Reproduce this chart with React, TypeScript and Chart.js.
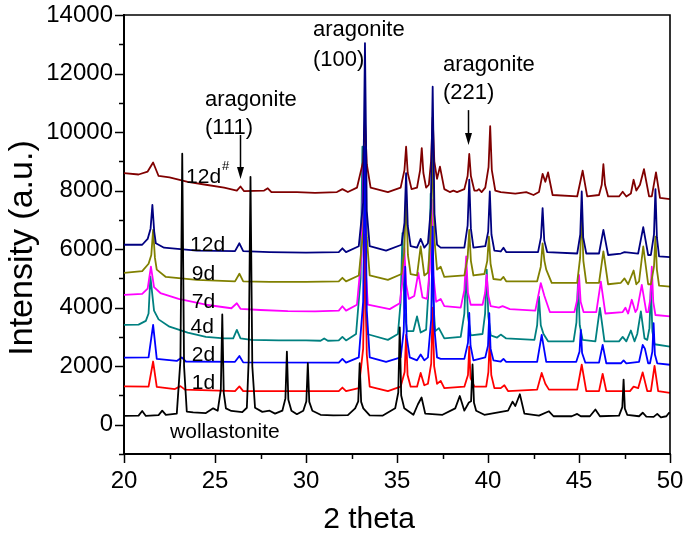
import { useEffect, useRef } from 'react';
import { Chart, registerables } from 'chart.js';
Chart.register(...registerables);

type P = [number, number];

// x-axis (2 theta) and y-axis (Intensity) limits / ticks
const xMin = 20;
const xMax = 50;
const xStep = 2.5;
const yMin = -1000;
const yMax = 14000;
const yStep = 1000;

const wollastonite: P[] = [
  [20, 300], [20.8, 310], [21.0, 470], [21.2, 300], [21.9, 330], [22.1, 480], [22.3, 340], [22.9, 380],
  [23.1, 2200], [23.2, 9260], [23.3, 2000], [23.45, 450], [23.8, 420], [24.5, 400], [24.9, 560], [25.15, 480],
  [25.32, 1200], [25.4, 3770], [25.48, 1100], [25.6, 560], [25.9, 470], [26.5, 430], [26.75, 580], [26.85, 2200],
  [26.95, 8470], [27.05, 2000], [27.2, 580], [27.6, 440], [28.0, 480], [28.3, 380], [28.7, 480], [28.87, 900],
  [28.95, 2500], [29.03, 850], [29.2, 480], [29.5, 360], [29.85, 480], [30.02, 800], [30.1, 2100], [30.18, 780],
  [30.35, 480], [30.8, 340], [31.5, 320], [32.3, 330], [32.7, 560], [32.87, 800], [32.95, 2100], [33.03, 780],
  [33.15, 560], [33.5, 320], [34.2, 310], [34.9, 560], [35.07, 1100], [35.15, 3330], [35.23, 1000], [35.4, 560],
  [35.9, 340], [36.15, 700], [36.35, 930], [36.55, 380], [37.5, 340], [38.2, 560], [38.45, 980], [38.7, 480],
  [38.95, 760], [39.07, 800], [39.15, 2060], [39.23, 750], [39.35, 480], [39.8, 340], [41.1, 480], [41.35, 790],
  [41.5, 640], [41.75, 1040], [42.0, 380], [42.8, 310], [43.35, 460], [43.6, 290], [44.6, 290], [44.9, 370],
  [45.1, 290], [45.6, 290], [45.9, 520], [46.15, 290], [47.2, 310], [47.38, 600], [47.45, 1540], [47.52, 550],
  [47.65, 340], [48.3, 290], [48.5, 410], [48.7, 280], [49.1, 270], [49.3, 370], [49.5, 250], [49.8, 290],
  [49.95, 410], [50, 400],
];

const day1: P[] = [
  [20, 1310], [21.35, 1300], [21.6, 2160], [21.8, 1290], [22.8, 1220], [23.1, 1320], [23.35, 1200], [26.1, 1150],
  [26.34, 1310], [26.55, 1150], [31.8, 1150], [32.0, 1270], [32.2, 1150], [32.9, 1250], [33.14, 2600], [33.24, 6500],
  [33.34, 2400], [33.5, 1300], [34.5, 1150], [35.2, 1300], [35.42, 1800], [35.5, 3070], [35.58, 1700], [35.75, 1300],
  [36.1, 1300], [36.3, 1770], [36.5, 1350], [36.7, 1400], [36.88, 2100], [36.96, 4000], [37.04, 2000], [37.2, 1400],
  [37.4, 1500], [37.6, 1250], [38.7, 1300], [38.9, 1700], [38.97, 2670], [39.04, 1600], [39.25, 1300], [39.9, 1300],
  [40.02, 1800], [40.1, 2950], [40.18, 1700], [40.35, 1250], [40.7, 1250], [40.9, 1350], [41.1, 1150], [42.7, 1200],
  [42.95, 1770], [43.15, 1400], [43.35, 1200], [44.9, 1200], [45.15, 2050], [45.4, 1150], [46.1, 1150], [46.3, 1740],
  [46.5, 1150], [47.8, 1150], [48.0, 1300], [48.25, 1250], [48.5, 1790], [48.75, 1150], [48.95, 1150], [49.15, 2010],
  [49.35, 1150], [50, 1090],
];

const day2: P[] = [
  [20, 2290], [21.35, 2300], [21.6, 3410], [21.8, 2250], [22.9, 2180], [23.17, 2300], [23.4, 2160], [26.1, 2150],
  [26.34, 2350], [26.55, 2130], [31.8, 2120], [32.0, 2250], [32.2, 2120], [32.9, 2300], [33.14, 4200], [33.24, 9500],
  [33.34, 3900], [33.5, 2300], [34.4, 2150], [35.2, 2300], [35.37, 3200], [35.45, 5400], [35.53, 3000], [35.7, 2300],
  [36.1, 2200], [36.3, 2400], [36.5, 2200], [36.7, 2300], [36.88, 3600], [36.96, 6770], [37.04, 3400], [37.2, 2300],
  [37.4, 2250], [38.7, 2250], [38.9, 2800], [38.97, 3820], [39.04, 2700], [39.2, 2200], [39.85, 2300], [40.0, 2700],
  [40.07, 3810], [40.14, 2600], [40.3, 2200], [40.7, 2160], [40.85, 2250], [41.0, 2150], [42.7, 2150], [42.95, 3070],
  [43.2, 2150], [44.85, 2150], [45.03, 2500], [45.1, 3240], [45.17, 2450], [45.35, 2120], [46.1, 2120], [46.3, 2730],
  [46.5, 2100], [47.3, 2100], [47.45, 2200], [47.6, 2100], [48.3, 2150], [48.5, 2730], [48.62, 2600], [48.8, 2100],
  [48.9, 2100], [49.03, 2500], [49.1, 3470], [49.17, 2400], [49.3, 2100], [50, 2050],
];

const day4: P[] = [
  [20, 3410], [20.8, 3420], [21.2, 3550], [21.35, 3800], [21.45, 5060], [21.65, 3900], [21.9, 3600], [22.5, 3350],
  [23.5, 3150], [24.5, 3000], [25.5, 2950], [26.0, 2950], [26.2, 3240], [26.4, 2950], [27, 2900], [28.5, 2880],
  [30, 2880], [30.8, 2870], [31.0, 2950], [31.2, 2870], [31.8, 2880], [32.0, 3000], [32.2, 2880], [32.75, 3100],
  [33.0, 5000], [33.1, 9500], [33.2, 4800], [33.35, 3100], [34.5, 2900], [35.05, 3100], [35.2, 4200], [35.3, 6550],
  [35.4, 4000], [35.55, 3200], [35.9, 3200], [36.1, 3700], [36.3, 3150], [36.6, 3250], [36.75, 4800], [36.85, 7900],
  [36.95, 4600], [37.1, 3200], [37.3, 3300], [37.6, 2950], [38.5, 3000], [38.7, 3800], [38.8, 5290], [38.9, 3700],
  [39.05, 3050], [39.7, 3100], [39.84, 3800], [39.93, 5300], [40.02, 3700], [40.15, 3050], [40.5, 2980], [40.7, 3080],
  [41, 2950], [42.55, 2900], [42.7, 3400], [42.8, 4380], [42.9, 3400], [43.05, 3100], [43.3, 2850], [44.7, 2850],
  [44.86, 3500], [44.95, 4950], [45.04, 3400], [45.2, 2900], [45.9, 2850], [46.15, 3990], [46.4, 2850], [47.2, 2850],
  [47.4, 3000], [47.6, 2850], [47.85, 3220], [48.05, 2850], [48.2, 3100], [48.4, 3870], [48.6, 2950], [48.75, 2900],
  [48.87, 3300], [48.95, 4720], [49.03, 3200], [49.15, 2750], [50, 2670],
];

const day7: P[] = [
  [20, 4440], [21.0, 4470], [21.3, 4650], [21.48, 5400], [21.65, 4700], [22, 4500], [23, 4300], [24.5, 4100],
  [25.9, 3980], [26.2, 4150], [26.4, 3960], [27.5, 3920], [29, 3880], [30.5, 3870], [31.8, 3900], [32.0, 4050],
  [32.2, 3900], [32.8, 4100], [33.05, 5800], [33.15, 8800], [33.25, 5600], [33.4, 4100], [34.6, 3950], [35.15, 4150],
  [35.3, 4900], [35.4, 6040], [35.5, 4800], [35.65, 4300], [35.95, 4400], [36.17, 5190], [36.4, 4350], [36.65, 4300],
  [36.8, 5300], [36.9, 7700], [37.0, 5100], [37.15, 4200], [37.4, 4300], [37.6, 4050], [38.5, 4000], [38.7, 4600],
  [38.8, 5750], [38.9, 4500], [39.05, 4100], [39.7, 4100], [39.84, 4500], [39.93, 5120], [40.02, 4400], [40.15, 4050],
  [40.6, 4000], [40.8, 4050], [41.2, 3950], [42.6, 3900], [42.9, 4840], [43.1, 4400], [43.4, 3850], [44.75, 3850],
  [44.91, 4300], [45.0, 5120], [45.09, 4200], [45.25, 3850], [45.95, 3850], [46.2, 4890], [46.45, 3800], [47.4, 3850],
  [47.55, 4000], [47.7, 3800], [47.9, 4270], [48.1, 3850], [48.2, 3950], [48.45, 4780], [48.7, 3850], [48.8, 3850],
  [48.92, 4300], [49.0, 5400], [49.08, 4200], [49.2, 3750], [50, 3700],
];

const day9: P[] = [
  [20, 5190], [21.0, 5250], [21.35, 5500], [21.5, 5800], [21.6, 6660], [21.7, 5700], [21.8, 5300], [22.3, 5050],
  [24, 4950], [26.1, 4900], [26.34, 5160], [26.55, 4900], [28, 4880], [30, 4880], [31.8, 4900], [32.0, 5020],
  [32.2, 4900], [32.9, 5100], [33.14, 6600], [33.24, 9000], [33.34, 6400], [33.5, 5100], [34.5, 4950], [35.25, 5150],
  [35.4, 5900], [35.5, 7920], [35.6, 5800], [35.75, 5150], [36.1, 5100], [36.3, 6090], [36.5, 5100], [36.7, 5200],
  [36.86, 6500], [36.96, 9700], [37.06, 6300], [37.2, 5300], [37.4, 5400], [37.6, 5050], [38.7, 5100], [38.88, 5700],
  [38.97, 6660], [39.06, 5600], [39.2, 5100], [39.8, 5150], [39.96, 5600], [40.05, 6430], [40.14, 5500], [40.3, 4980],
  [40.7, 4950], [40.85, 5050], [41, 4900], [42.7, 4900], [42.9, 5400], [43.0, 6200], [43.1, 5600], [43.2, 5300],
  [43.5, 4850], [44.9, 4850], [45.06, 5700], [45.15, 7340], [45.24, 5600], [45.4, 4850], [46.1, 4850], [46.34, 5920],
  [46.6, 4800], [47.3, 4850], [47.5, 5000], [47.7, 4800], [48.0, 5270], [48.15, 4800], [48.3, 4900], [48.53, 6090],
  [48.8, 4800], [48.95, 4800], [49.12, 5400], [49.2, 6430], [49.28, 5300], [49.4, 4750], [50, 4720],
];

const day12: P[] = [
  [20, 6150], [21.0, 6150], [21.3, 6350], [21.46, 6700], [21.56, 7510], [21.66, 6600], [21.75, 6200], [22.2, 6050],
  [24, 5950], [26.1, 5930], [26.34, 6200], [26.55, 5930], [28, 5900], [30, 5880], [31.8, 5900], [32.0, 6030],
  [32.2, 5900], [32.9, 6100], [33.14, 7600], [33.24, 13040], [33.34, 7300], [33.5, 6100], [34.4, 5950], [35.25, 6150],
  [35.41, 6900], [35.5, 8600], [35.59, 6800], [35.75, 6100], [36.1, 6050], [36.3, 6350], [36.5, 6050], [36.7, 6200],
  [36.86, 7400], [36.96, 11550], [37.06, 7200], [37.2, 6150], [37.4, 6050], [38.7, 6050], [38.88, 6800], [38.97, 8370],
  [39.06, 6700], [39.2, 6050], [39.85, 6100], [40.01, 6600], [40.1, 7970], [40.19, 6500], [40.35, 5950], [40.7, 5920],
  [40.85, 6050], [41, 5900], [42.75, 5900], [42.91, 6400], [43.0, 7400], [43.09, 6300], [43.25, 5900], [44.9, 5850],
  [45.07, 6500], [45.15, 7970], [45.23, 6400], [45.4, 5850], [46.1, 5850], [46.34, 6660], [46.6, 5800], [47.3, 5850],
  [47.5, 5900], [48.25, 5850], [48.53, 6750], [48.8, 5800], [48.95, 5800], [49.12, 6500], [49.2, 8050], [49.28, 6400],
  [49.4, 5750], [50, 5730],
];

const day12s: P[] = [
  [20, 8600], [20.8, 8550], [21.3, 8650], [21.6, 8960], [21.9, 8500], [22.5, 8450], [23.5, 8300], [24.5, 8200],
  [25.5, 8100], [26.2, 8000], [26.4, 8140], [26.6, 7980], [27.7, 8000], [27.9, 8080], [28.1, 7950], [29.5, 7950],
  [30.5, 7920], [31.7, 7950], [32.0, 8050], [32.3, 7950], [32.8, 8100], [33.14, 9000], [33.24, 10400], [33.34, 8900],
  [33.55, 8100], [34.5, 7950], [35.2, 8100], [35.41, 8700], [35.5, 9500], [35.59, 8600], [35.8, 8050], [36.1, 8100],
  [36.27, 8700], [36.36, 9450], [36.45, 8600], [36.6, 8100], [36.75, 8200], [36.87, 9000], [36.96, 10500], [37.05, 9000],
  [37.2, 8400], [37.36, 8820], [37.6, 8050], [37.9, 7950], [38.1, 8000], [38.3, 7950], [38.7, 8050], [38.88, 8500],
  [38.97, 9250], [39.06, 8500], [39.25, 8000], [39.4, 8000], [39.5, 8050], [39.65, 7950], [39.85, 8100], [40.03, 8800],
  [40.12, 10200], [40.21, 8700], [40.4, 8000], [40.7, 7950], [41.5, 7900], [42.1, 7950], [42.5, 7850], [42.8, 7950],
  [43.0, 8570], [43.15, 8300], [43.3, 8620], [43.55, 7850], [44.9, 7800], [45.2, 8680], [45.45, 7800], [46.1, 7850],
  [46.25, 8200], [46.34, 8900], [46.43, 8200], [46.6, 7800], [47.2, 7800], [47.4, 7960], [47.6, 7800], [47.85, 7900],
  [48.0, 8370], [48.15, 8000], [48.35, 8200], [48.57, 8730], [48.85, 7800], [49.0, 7800], [49.23, 8620], [49.45, 7750],
  [50, 7710],
];

// curve labels: [text, x, y]
const curveLabels: [string, number, number][] = [
  ['12d', 23.63, 6140],
  ['9d', 23.72, 5150],
  ['7d', 23.72, 4200],
  ['4d', 23.66, 3340],
  ['2d', 23.72, 2390],
  ['1d', 23.72, 1430],
  ['wollastonite', 22.53, -270],
];
// peak annotations
const peakNotes: { l1: string; l2: string; x: number; y1: number; y2: number; ax?: number; ay1?: number; ay2?: number }[] = [
  { l1: 'aragonite', l2: '(111)', x: 24.45, y1: 11090, y2: 10140, ax: 26.37, ay1: 9900, ay2: 8400 },
  { l1: 'aragonite', l2: '(100)', x: 30.38, y1: 13480, y2: 12460 },
  { l1: 'aragonite', l2: '(221)', x: 37.53, y1: 12290, y2: 11330, ax: 38.9, ay1: 10750, ay2: 9560 },
];
const sharpLabel = { text: '12d', sup: '#', x: 23.41, y: 8460 };

const FONT = '"Liberation Sans", Arial, sans-serif';

const seriesDefs: { label: string; data: P[]; color: string }[] = [
  { label: 'wollastonite', data: wollastonite, color: '#000000' },
  { label: '12d', data: day12, color: '#000080' },
  { label: '2d', data: day2, color: '#0000ff' },
  { label: '1d', data: day1, color: '#ff0000' },
  { label: '12d#', data: day12s, color: '#800000' },
  { label: '9d', data: day9, color: '#808000' },
  { label: '7d', data: day7, color: '#ff00ff' },
  { label: '4d', data: day4, color: '#008080' },
];

const decorPlugin = {
  id: 'decor',
  afterDraw(chart: any) {
    const ctx = chart.ctx as CanvasRenderingContext2D;
    const xs = chart.scales.x;
    const ys = chart.scales.y;
    const a = chart.chartArea;
    ctx.save();
    ctx.strokeStyle = '#000';
    ctx.fillStyle = '#000';
    // frame top + right
    ctx.lineWidth = 1.6;
    ctx.beginPath();
    ctx.moveTo(a.left, a.top);
    ctx.lineTo(a.right, a.top);
    ctx.lineTo(a.right, a.bottom);
    ctx.stroke();
    // tick marks
    ctx.lineWidth = 1.5;
    xs.ticks.forEach((t: any) => {
      const px = Math.round(xs.getPixelForValue(t.value)) + 0.5;
      const major = Math.abs(t.value % 5) < 1e-6;
      ctx.beginPath();
      ctx.moveTo(px, a.bottom);
      ctx.lineTo(px, a.bottom + (major ? 9 : 5));
      ctx.stroke();
    });
    ys.ticks.forEach((t: any) => {
      const py = Math.round(ys.getPixelForValue(t.value)) + 0.5;
      const major = Math.abs(t.value % 2000) < 1e-6;
      ctx.beginPath();
      ctx.moveTo(a.left, py);
      ctx.lineTo(a.left - (major ? 9 : 5), py);
      ctx.stroke();
    });
    // curve labels
    ctx.textBaseline = 'middle';
    ctx.textAlign = 'left';
    ctx.font = `21px ${FONT}`;
    curveLabels.forEach(([txt, x, y]) => {
      ctx.fillText(txt, xs.getPixelForValue(x), ys.getPixelForValue(y));
    });
    const sx = xs.getPixelForValue(sharpLabel.x);
    const sy = ys.getPixelForValue(sharpLabel.y);
    ctx.fillText(sharpLabel.text, sx, sy);
    const w = ctx.measureText(sharpLabel.text).width;
    ctx.font = `13px ${FONT}`;
    ctx.fillText(sharpLabel.sup, sx + w + 1, sy - 11);
    // peak notes
    ctx.font = `22px ${FONT}`;
    peakNotes.forEach((n) => {
      const px = xs.getPixelForValue(n.x);
      ctx.fillText(n.l1, px, ys.getPixelForValue(n.y1));
      ctx.fillText(n.l2, px, ys.getPixelForValue(n.y2));
      if (n.ax !== undefined) {
        const ax = Math.round(xs.getPixelForValue(n.ax)) + 0.5;
        const t = ys.getPixelForValue(n.ay1!);
        const b = ys.getPixelForValue(n.ay2!);
        ctx.lineWidth = 1.5;
        ctx.beginPath();
        ctx.moveTo(ax, t);
        ctx.lineTo(ax, b - 10);
        ctx.stroke();
        ctx.beginPath();
        ctx.moveTo(ax - 3.5, b - 12);
        ctx.lineTo(ax + 3.5, b - 12);
        ctx.lineTo(ax, b);
        ctx.closePath();
        ctx.fill();
      }
    });
    // axis titles
    ctx.textAlign = 'center';
    ctx.font = `30px ${FONT}`;
    ctx.fillText('2 theta', 369, 520);
    ctx.save();
    ctx.translate(23, 248);
    ctx.rotate(-Math.PI / 2);
    ctx.font = `34px ${FONT}`;
    ctx.fillText('Intensity (a.u.)', 0, 0);
    ctx.restore();
    ctx.restore();
  },
};

export default function App() {
  const ref = useRef<HTMLCanvasElement | null>(null);
  useEffect(() => {
    if (!ref.current) return;
    const chart = new Chart(ref.current, {
      type: 'line',
      data: {
        datasets: seriesDefs.map((s) => ({
          label: s.label,
          data: s.data.map(([x, y]) => ({ x, y })),
          borderColor: s.color,
          backgroundColor: s.color,
          borderWidth: 1.8,
          pointRadius: 0,
          tension: 0,
          borderJoinStyle: 'round' as const,
        })),
      },
      options: {
        animation: false,
        responsive: true,
        maintainAspectRatio: false,
        layout: { padding: { top: 15, right: 16, left: 0, bottom: 0 } },
        plugins: { legend: { display: false }, tooltip: { enabled: false } },
        scales: {
          x: {
            type: 'linear',
            min: xMin,
            max: xMax,
            grid: { display: false, drawTicks: false },
            border: { display: true, color: '#000', width: 2 },
            afterFit: (s: any) => { s.height = 89; s.paddingLeft = 0; s.paddingRight = 0; },
            afterBuildTicks: (s: any) => {
              const t = [];
              for (let v = xMin; v <= xMax + 1e-9; v += xStep) t.push({ value: v });
              s.ticks = t;
            },
            ticks: {
              color: '#000',
              padding: 13,
              maxRotation: 0,
              autoSkip: false,
              font: { size: 24, family: FONT },
              callback: (v: any) => (Math.abs(Number(v) % 5) < 1e-6 ? String(v) : ''),
            },
          },
          y: {
            min: yMin,
            max: yMax,
            grid: { display: false, drawTicks: false },
            border: { display: true, color: '#000', width: 2 },
            afterFit: (s: any) => { s.width = 124; s.paddingTop = 0; s.paddingBottom = 0; },
            ticks: {
              stepSize: yStep,
              color: '#000',
              padding: 11,
              autoSkip: false,
              font: { size: 24, family: FONT },
              callback: (v: any) => (Math.abs(Number(v) % 2000) < 1e-6 ? String(v) : ''),
            },
          },
        },
      },
      plugins: [decorPlugin],
    });
    return () => chart.destroy();
  }, []);
  return (
    <div style={{ position: 'fixed', left: 0, top: 0, width: 686, height: 543, background: '#fff' }}>
      <canvas ref={ref} />
    </div>
  );
}
